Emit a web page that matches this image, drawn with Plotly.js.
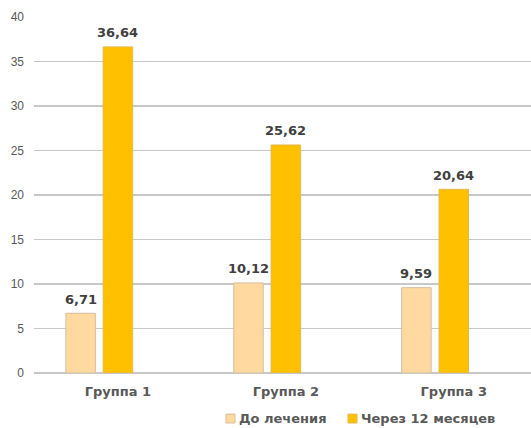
<!DOCTYPE html>
<html>
<head>
<meta charset="utf-8">
<script src="https://cdn.plot.ly/plotly-3.0.1.min.js"></script>
<style>
  html, body { margin: 0; padding: 0; background: #ffffff; }
  #chart { width: 531px; height: 428px; }
</style>
</head>
<body>
<div id="chart"></div>
<script>
// Категории и значения
const groups = ['Группа 1', 'Группа 2', 'Группа 3'];
const seriesNames = ['До лечения', 'Через 12 месяцев'];
const beforeValues = [6.71, 10.12, 9.59];
const afterValues = [36.64, 25.62, 20.64];
const yTicks = [0, 5, 10, 15, 20, 25, 30, 35, 40];

const peach = '#FFD9A0';
const gold = '#FFC000';
const labelFont = { family: 'DejaVu Sans', size: 13, color: '#404040', weight: 'bold' };
const catFont = { family: 'DejaVu Sans', size: 13, color: '#595959', weight: 'bold' };

// Геометрия области построения и групп столбцов
const plotLeft = 34, plotWidth = 497;
const xRange = [-0.5, 2.46];
const barGap = 0.333, barGroupGap = 0.21;
const catPx = plotWidth / (xRange[1] - xRange[0]);
const slotPx = catPx * (1 - barGap) / 3;

const traces = [
  {
    type: 'bar', name: seriesNames[0], x: groups, y: beforeValues,
    marker: { color: peach, line: { color: '#d6bf9c', width: 1 } },
    hoverinfo: 'skip'
  },
  {
    type: 'bar', name: seriesNames[1], x: groups, y: afterValues,
    marker: { color: gold, line: { color: '#e3b84a', width: 1 } },
    hoverinfo: 'skip'
  },
  {
    // пустой третий ряд резервирует место справа в каждой группе
    type: 'bar', name: '', x: groups, y: [null, null, null],
    showlegend: false, hoverinfo: 'skip'
  }
];

const fmt = v => v.toFixed(2).replace('.', ',');

// Подписи значений над столбцами
const valueLabels = [];
[[beforeValues, -slotPx], [afterValues, 0]].forEach(([vals, dx]) => {
  vals.forEach((v, i) => {
    valueLabels.push({
      xref: 'x', yref: 'y', x: groups[i], y: v,
      xshift: dx, yshift: 14, yanchor: 'middle', xanchor: 'center',
      showarrow: false, text: fmt(v), font: labelFont
    });
  });
});

// Легенда внизу: квадратные маркеры и подписи
const legendY = -0.128;
const legendItems = [
  { x0: 226, text: seriesNames[0], color: peach, line: '#d6bf9c' },
  { x0: 348, text: seriesNames[1], color: gold, line: '#e3b84a' }
];
const shapes = legendItems.map(it => ({
  type: 'rect', xref: 'paper', yref: 'paper',
  x0: (it.x0 - plotLeft) / plotWidth, x1: (it.x0 + 9 - plotLeft) / plotWidth,
  y0: legendY - 0.0125, y1: legendY + 0.0125,
  fillcolor: it.color, line: { color: it.line, width: 1 }
}));
const legendLabels = legendItems.map(it => ({
  xref: 'paper', yref: 'paper',
  x: (it.x0 + 11 - plotLeft) / plotWidth, y: legendY,
  xanchor: 'left', yanchor: 'middle', showarrow: false,
  text: it.text, font: catFont
}));

const layout = {
  width: 531, height: 428,
  margin: { l: plotLeft, r: 0, t: 17, b: 55 },
  paper_bgcolor: '#ffffff', plot_bgcolor: '#ffffff',
  barmode: 'group', bargap: barGap, bargroupgap: barGroupGap,
  showlegend: false,
  xaxis: {
    type: 'category', range: xRange,
    showgrid: false, zeroline: false, showline: false,
    ticks: '', tickfont: catFont, ticklabelstandoff: 9
  },
  yaxis: {
    range: [0, 40], tickvals: yTicks,
    showgrid: true, gridcolor: '#c8c8c8', gridwidth: 1.4,
    zeroline: true, zerolinecolor: '#c8c8c8', zerolinewidth: 1.4,
    showline: false, ticks: '',
    tickfont: { family: 'Liberation Sans', size: 12, color: '#595959' },
    ticklabelstandoff: 9
  },
  shapes: shapes,
  annotations: valueLabels.concat(legendLabels)
};

Plotly.newPlot('chart', traces, layout, { displayModeBar: false, staticPlot: true });
</script>
</body>
</html>
